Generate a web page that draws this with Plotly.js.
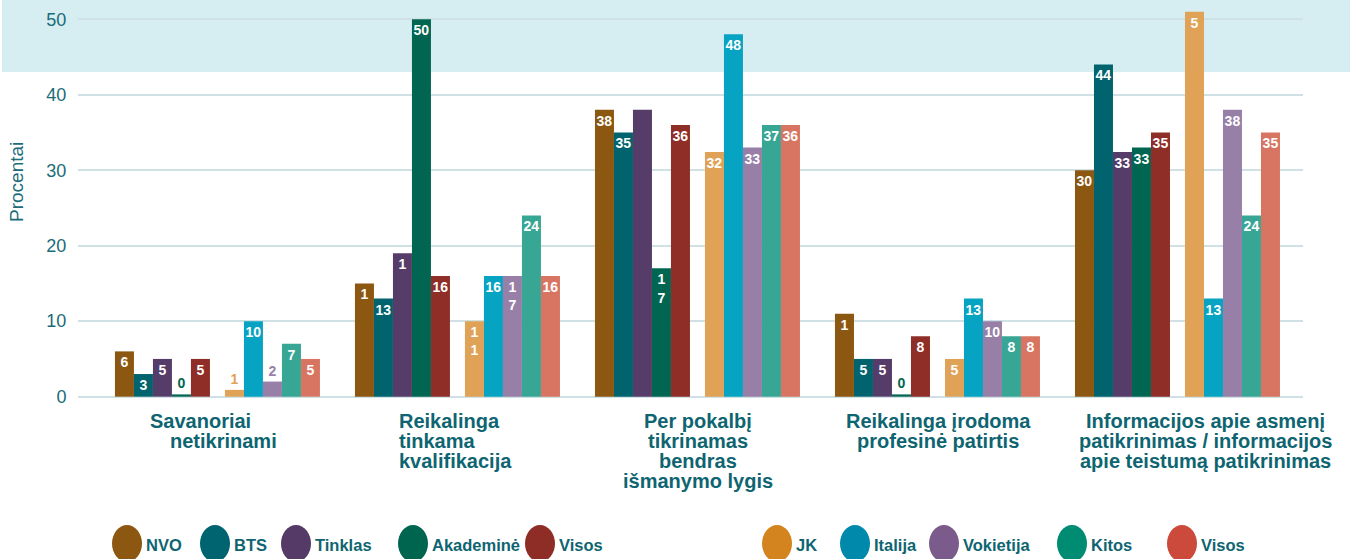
<!DOCTYPE html>
<html>
<head>
<meta charset="utf-8">
<script src="https://cdn.plot.ly/plotly-3.0.1.min.js"></script>
<style>
html,body{margin:0;padding:0;background:#ffffff;}
#chart{width:1350px;height:559px;}
</style>
</head>
<body>
<div id="chart"></div>
<script>
// ---------- DATA ----------
const categories = [
  "Savanoriai netikrinami",
  "Reikalinga tinkama kvalifikacija",
  "Per pokalbį tikrinamas bendras išmanymo lygis",
  "Reikalinga įrodoma profesinė patirtis",
  "Informacijos apie asmenį patikrinimas / informacijos apie teistumą patikrinimas"
];
const categoryLines = [
  ["Savanoriai", "netikrinami"],
  ["Reikalinga", "tinkama", "kvalifikacija"],
  ["Per pokalbį", "tikrinamas", "bendras", "išmanymo lygis"],
  ["Reikalinga įrodoma", "profesinė patirtis"],
  ["Informacijos apie asmenį", "patikrinimas / informacijos", "apie teistumą patikrinimas"]
];
const seriesNames = ["NVO", "BTS", "Tinklas", "Akademinė", "Visos", "JK", "Italija", "Vokietija", "Kitos", "Visos"];

const nvo       = [6,   15, 38,   11,  30];
const bts       = [3,   13, 35,   5,   44];
const tinklas   = [5,   19, 38,   5,   32.4];
const akademine = [0.3, 50, 17,   0.3, 33];
const visosA    = [5,   16, 36,   8,   35];
const jk        = [0.9, 10, 32.4, 5,   51];
const italija   = [10,  16, 48,   13,  13];
const vokietija = [2,   16, 33,   10,  38];
const kitos     = [7,   24, 36,   8,   24];
const visosB    = [5,   16, 36,   8,   35];

// value labels as printed on the bars
const nvoLabels       = ["6", "1", "38", "1", "30"];
const btsLabels       = ["3", "13", "35", "5", "44"];
const tinklasLabels   = ["5", "1", "", "5", "33"];
const akademineLabels = ["0", "50", "1<br>7", "0", "33"];
const visosALabels    = ["5", "16", "36", "8", "35"];
const jkLabels        = ["1", "1<br>1", "32", "5", "5"];
const italijaLabels   = ["10", "16", "48", "13", "13"];
const vokietijaLabels = ["2", "1<br>7", "33", "10", "38"];
const kitosLabels     = ["7", "24", "37", "8", "24"];
const visosBLabels    = ["5", "16", "36", "8", "35"];

const yTicks = [0, 10, 20, 30, 40, 50];
const yTitle = "Procentai";

// ---------- STYLE ----------
const seriesValues = [nvo, bts, tinklas, akademine, visosA, jk, italija, vokietija, kitos, visosB];
const seriesLabels = [nvoLabels, btsLabels, tinklasLabels, akademineLabels, visosALabels,
                      jkLabels, italijaLabels, vokietijaLabels, kitosLabels, visosBLabels];
const barColors = ["#8C5711", "#00636E", "#563C68", "#006551", "#8E2E27",
                   "#DFA256", "#07A3C2", "#987FA8", "#38A694", "#D87562"];
const legendColors = ["#8C5711", "#006470", "#553A68", "#00654F", "#8E2D26",
                      "#D4841E", "#0089AB", "#7B5B8B", "#008B73", "#CC4A3C"];
const legendCircleX = [127, 215, 296, 413, 540, 777, 855, 944, 1072, 1182];

const FONT = "Liberation Sans, Arial, sans-serif";
const TEXT_COLOR = "#0E6571";
const TICK_COLOR = "#1B6B78";

// plot geometry (pixels)
const L = 78, R = 47, T = 5, B = 159, W = 1350, H = 559;
const PW = W - L - R, PH = H - T - B;
const pxX = px => (px - L) / PW;
const pxY = py => (T + PH - py) / PH;

const unitPx = 240;                 // px per category
const barW = 19 / unitPx;
const firstStart = -102.5 / unitPx;
const secondStart = 7.5 / unitPx;
const offsets = [];
for (let i = 0; i < 5; i++) offsets.push(firstStart + i * barW);
for (let i = 0; i < 5; i++) offsets.push(secondStart + i * barW);

const traces = seriesValues.map((vals, i) => ({
  type: "bar",
  name: seriesNames[i],
  x: categories,
  y: vals,
  text: seriesLabels[i],
  textposition: "auto",
  insidetextanchor: "end",
  textangle: 0,
  constraintext: "none",
  width: barW,
  offset: offsets[i],
  marker: {color: barColors[i], line: {width: 0}},
  insidetextfont: {family: FONT, size: 14, color: "#ffffff", weight: "bold"},
  outsidetextfont: {family: FONT, size: 14, color: barColors[i], weight: "bold"},
  showlegend: false,
  hoverinfo: "skip"
}));

const shapes = [{
  type: "rect", layer: "below", xref: "paper", yref: "paper",
  x0: pxX(2), x1: pxX(1352), y0: pxY(72), y1: pxY(-2),
  fillcolor: "#D6EEF2", line: {width: 0}
}];

const annotations = [];
// y-axis title
annotations.push({
  xref: "paper", yref: "paper", x: pxX(17), y: pxY(182),
  text: yTitle, showarrow: false, textangle: -90,
  font: {family: FONT, size: 19, color: TICK_COLOR},
  xanchor: "center", yanchor: "middle"
});

// category labels (one annotation per line)
const labelAnchors = [
  {anchor: "left", x: [148, 168]},
  {anchor: "left", x: [397, 397, 397]},
  {anchor: "center", x: [698]},
  {anchor: "center", x: [938]},
  {anchor: "center", x: [1205]}
];
categoryLines.forEach((lines, ci) => {
  const a = labelAnchors[ci];
  lines.forEach((line, li) => {
    const px = a.x[Math.min(li, a.x.length - 1)];
    annotations.push({
      xref: "paper", yref: "paper", x: pxX(px), y: pxY(421 + 20 * li),
      text: line, showarrow: false, xanchor: a.anchor, yanchor: "middle",
      font: {family: FONT, size: 20, color: TEXT_COLOR, weight: "bold"}
    });
  });
});

// custom legend: circles + names
seriesNames.forEach((name, i) => {
  const cx = legendCircleX[i];
  shapes.push({
    type: "circle", xref: "paper", yref: "paper",
    x0: pxX(cx - 15), x1: pxX(cx + 15), y0: pxY(562), y1: pxY(525),
    fillcolor: legendColors[i], line: {width: 0}
  });
  annotations.push({
    xref: "paper", yref: "paper", x: pxX(cx + 17), y: pxY(545),
    text: name, showarrow: false, xanchor: "left", yanchor: "middle",
    font: {family: FONT, size: 16.5, color: TEXT_COLOR, weight: "bold"}
  });
});

const layout = {
  width: W, height: H,
  margin: {l: L, r: R, t: T, b: B, pad: 0},
  paper_bgcolor: "#ffffff",
  plot_bgcolor: "rgba(0,0,0,0)",
  barmode: "overlay",
  showlegend: false,
  hovermode: false,
  font: {family: FONT, color: TICK_COLOR},
  xaxis: {
    type: "category",
    range: [-0.581, 4.523],
    showticklabels: false, showgrid: false, zeroline: false, showline: false, ticks: "",
    fixedrange: true
  },
  yaxis: {
    range: [-0.44, 51.88],
    tickvals: yTicks,
    ticktext: yTicks.map(String),
    tickfont: {family: FONT, size: 18, color: TICK_COLOR},
    ticks: "outside", ticklen: 7, tickcolor: "rgba(0,0,0,0)",
    showgrid: true, gridcolor: "#CFE1E5", gridwidth: 2,
    zeroline: false, showline: false,
    fixedrange: true
  },
  shapes: shapes,
  annotations: annotations
};

Plotly.newPlot("chart", traces, layout, {displayModeBar: false, staticPlot: true});
</script>
</body>
</html>
